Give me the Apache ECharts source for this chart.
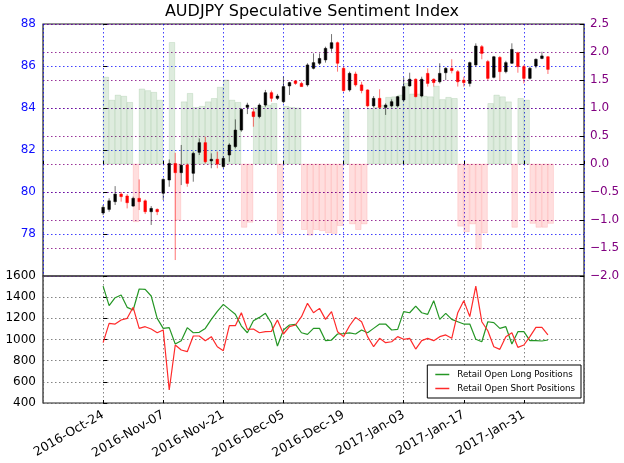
<!DOCTYPE html>
<html>
<head>
<meta charset="utf-8">
<script src="https://cdn.jsdelivr.net/npm/echarts@6/dist/echarts.min.js"></script>
<style>html,body{margin:0;padding:0;background:#fff}#c{width:624px;height:463px}</style>
</head>
<body>
<div id="c"></div>
<script>
// ---- data ----
const tickLabels = ['2016-Oct-24','2016-Nov-07','2016-Nov-21','2016-Dec-05','2016-Dec-19','2017-Jan-03','2017-Jan-17','2017-Jan-31'];
const openP = [79.00,79.17,79.54,79.90,79.81,79.33,79.70,79.58,79.06,79.17,79.94,80.57,81.36,80.92,81.29,80.89,81.89,82.35,81.48,81.56,81.21,81.76,82.16,82.95,84.03,83.82,83.59,84.14,84.73,84.46,84.30,85.05,85.29,85.17,85.10,85.89,86.13,86.29,86.84,87.11,85.89,84.86,85.62,85.10,84.86,84.10,84.46,84.03,84.10,84.10,84.38,85.05,85.37,84.57,85.65,85.37,85.25,85.68,85.89,85.73,85.33,85.17,86.05,86.92,86.21,85.46,86.41,85.73,86.13,86.63,85.97,85.41,86.00,86.36,86.44];
const closeP = [79.27,79.58,79.90,79.78,79.49,79.70,79.54,79.06,79.22,79.06,80.60,81.36,80.92,81.28,80.41,81.84,82.35,81.44,81.56,81.33,81.60,82.24,82.95,83.94,84.14,83.59,84.14,84.73,84.46,84.57,85.02,85.21,85.17,85.02,86.05,86.16,86.36,86.84,87.11,86.13,84.83,85.65,85.10,84.83,84.10,84.46,84.03,84.14,84.30,84.54,85.02,85.37,84.54,85.37,85.17,85.21,85.65,85.89,85.78,85.25,85.21,86.16,86.95,86.60,85.41,86.44,85.73,86.16,86.79,85.97,85.41,85.89,86.32,86.48,85.84];
const lowP = [78.90,79.06,79.38,79.54,79.22,79.30,79.14,78.95,78.43,78.90,79.62,80.25,76.76,80.33,80.25,80.49,81.76,81.36,81.13,81.13,81.13,81.44,82.08,82.87,83.71,83.11,83.51,84.06,84.30,84.38,84.22,84.62,85.10,85.02,85.02,85.84,86.05,86.16,86.68,85.73,84.78,84.78,85.02,84.70,84.03,84.03,83.98,83.67,84.03,84.03,84.30,85.02,84.51,84.51,85.02,85.02,85.17,85.33,85.65,85.02,85.02,85.02,85.97,86.32,85.33,85.41,85.33,85.65,86.10,85.68,85.17,85.36,85.89,86.32,85.62];
const highP = [79.38,79.70,80.28,80.00,79.90,79.78,80.60,79.65,79.33,79.22,80.65,81.55,81.87,82.24,81.36,81.92,82.55,82.63,81.84,81.92,81.71,82.32,83.46,83.98,84.25,83.98,84.22,84.86,84.83,84.67,85.49,85.25,85.33,85.25,86.13,86.60,86.60,86.92,87.52,87.16,85.97,85.73,85.73,85.25,84.89,84.57,84.89,84.22,84.41,84.57,85.46,85.68,85.41,85.49,85.89,85.41,86.13,85.94,86.32,85.81,85.49,86.21,87.08,87.00,86.29,86.48,86.48,86.25,87.08,86.68,86.05,85.97,86.36,86.68,86.48];
const sentiment = [1.55,1.14,1.23,1.21,1.10,-1.03,1.34,1.31,1.28,1.14,null,2.17,-1.00,1.11,1.26,1.01,1.03,1.11,1.17,1.37,1.50,1.14,1.10,-1.13,-1.04,1.01,1.03,1.05,1.08,-1.24,1.03,1.01,1.00,-1.17,-1.27,-1.17,-1.19,-1.23,-1.24,-1.10,0.99,-1.07,-1.17,-1.07,0.99,1.01,1.05,1.19,1.20,1.23,1.44,1.25,1.25,1.21,1.20,1.39,1.15,1.19,1.17,-1.11,-1.21,-1.07,-1.52,-1.23,1.08,1.23,1.20,1.11,-1.13,1.17,1.14,-1.06,-1.13,-1.13,-1.06];
const longPos = [1505,1320,1395,1420,1304,1279,1477,1474,1411,1200,1105,1112,957,989,1112,1064,1068,1105,1190,1266,1332,1285,1238,1127,1064,1178,1209,1247,1153,938,1090,1137,1143,1064,1049,1105,1105,989,995,1052,1055,1062,1052,1090,1064,1105,1146,1146,1090,1096,1263,1253,1316,1253,1238,1367,1190,1247,1190,1168,1146,1146,1002,979,1168,1159,1105,1121,957,1074,1074,989,989,986,995];
const shortPos = [970,1153,1146,1184,1200,1304,1105,1121,1099,1064,1090,523,948,901,885,1033,1033,989,1027,932,894,1131,1131,1253,1096,1099,1064,1074,1077,1184,1052,1121,1137,1216,1342,1253,1294,1190,1263,1074,1027,1130,1209,1168,1027,932,1011,970,979,1027,1002,1011,910,989,1011,989,1027,1043,1011,1253,1367,1216,1505,1168,1083,932,907,1027,1064,926,948,1027,1115,1115,1043];

// ---- build ----
const FONT = 'DejaVu Sans';
const candleData = openP.map((o, i) => [i, o, closeP[i], lowP[i], highP[i]]);
const barData = sentiment.map((v, i) => [i, v]).filter(d => d[1] !== null);
const longData = longPos.map((v, i) => [i, v]);
const shortData = shortPos.map((v, i) => [i, v]);

function dateLabel(v) {
  const k = Math.round(v / 10);
  if (v < 0 || k >= tickLabels.length || v % 10 !== 0) return '';
  return tickLabels[k];
}
function minus(v) { return (v < 0 ? '\u2212' : '') + Math.abs(v).toFixed(1); }
function plain(v) { return String(v); }

const dotted = (c) => ({ show: true, lineStyle: { color: c, type: [1.5, 2.5], width: 1 } });

const chart = echarts.init(document.getElementById('c'), null, { renderer: 'canvas' });
chart.setOption({
  animation: false,
  backgroundColor: '#fff',
  title: {
    text: 'AUDJPY Speculative Sentiment Index',
    left: 'center', top: 4, padding: 0,
    textStyle: { fontFamily: FONT, fontSize: 16, fontWeight: 'normal', color: '#000' }
  },
  legend: {
    orient: 'vertical', right: 43, bottom: 65,
    data: [{ name: 'Retail Open Long Positions' }, { name: 'Retail Open Short Positions' }],
    icon: 'rect', itemWidth: 14, itemHeight: 1.5, itemGap: 5,
    padding: [5, 6, 5, 8],
    borderColor: '#000', borderWidth: 1, backgroundColor: '#fff',
    textStyle: { fontFamily: FONT, fontSize: 8.7, color: '#000', padding: [0, 0, 0, 3] }
  },
  grid: [
    { left: 43, top: 24, width: 541, height: 252, show: true, borderColor: '#222', borderWidth: 1.2, containLabel: false },
    { left: 43, top: 276, width: 541, height: 127, show: true, borderColor: '#222', borderWidth: 1.2, containLabel: false }
  ],
  xAxis: [
    { type: 'value', gridIndex: 0, min: -10, max: 80, interval: 10,
      axisLine: { show: false }, axisLabel: { show: false },
      axisTick: { show: true, inside: true, length: 3, lineStyle: { color: '#000' } },
      splitLine: dotted('rgba(0,0,255,0.75)') },
    { type: 'value', gridIndex: 1, min: -10, max: 80, interval: 10,
      axisLine: { show: false },
      axisTick: { show: true, inside: true, length: 3, lineStyle: { color: '#000' } },
      axisLabel: { formatter: dateLabel, rotate: 30, margin: 11, fontFamily: FONT, fontSize: 12.5, color: '#000',
                   showMinLabel: false, showMaxLabel: false },
      splitLine: dotted('rgba(80,80,80,0.7)') }
  ],
  yAxis: [
    { type: 'value', gridIndex: 0, min: 76, max: 88, interval: 2, position: 'left',
      axisLine: { show: false },
      axisTick: { show: true, inside: true, length: 4, lineStyle: { color: '#000' } },
      axisLabel: { showMinLabel: false, formatter: plain, fontFamily: FONT, fontSize: 12, color: '#1010ff', margin: 7 },
      splitLine: dotted('rgba(0,0,255,0.75)') },
    { type: 'value', gridIndex: 0, min: -2, max: 2.5, interval: 0.5, position: 'right',
      axisLine: { show: false },
      axisTick: { show: true, inside: true, length: 4, lineStyle: { color: '#000' } },
      axisLabel: { formatter: minus, fontFamily: FONT, fontSize: 12, color: '#800080', margin: 6 },
      splitLine: dotted('rgba(128,0,128,0.8)') },
    { type: 'value', gridIndex: 1, min: 400, max: 1600, interval: 200, position: 'left',
      axisLine: { show: false },
      axisTick: { show: true, inside: true, length: 4, lineStyle: { color: '#000' } },
      axisLabel: { formatter: plain, fontFamily: FONT, fontSize: 12, color: '#000', margin: 7 },
      splitLine: dotted('rgba(80,80,80,0.7)') }
  ],
  series: [
    {
      type: 'custom', name: 'Sentiment', xAxisIndex: 0, yAxisIndex: 1, z: 1,
      data: barData, encode: { x: 0, y: 1 },
      renderItem: function (params, api) {
        const i = api.value(0), v = api.value(1);
        const p0 = api.coord([i, 0]);
        const p1 = api.coord([i + 0.92, v]);
        const pos = v >= 0;
        return {
          type: 'rect',
          shape: { x: p0[0], y: Math.min(p0[1], p1[1]), width: p1[0] - p0[0], height: Math.abs(p1[1] - p0[1]) },
          style: { fill: pos ? 'rgba(0,110,0,0.13)' : 'rgba(255,0,0,0.13)',
                   stroke: pos ? 'rgba(0,110,0,0.10)' : 'rgba(255,0,0,0.10)', lineWidth: 1 }
        };
      }
    },
    {
      type: 'custom', name: 'AUDJPY', xAxisIndex: 0, yAxisIndex: 0, z: 3,
      data: candleData, encode: { x: 0, y: [1, 2, 3, 4] },
      renderItem: function (params, api) {
        const i = api.value(0), o = api.value(1), c = api.value(2), l = api.value(3), h = api.value(4);
        const up = c >= o;
        const col = up ? '#000000' : '#ff0000';
        const pH = api.coord([i, h]), pL = api.coord([i, l]);
        const a = api.coord([i - 0.22, Math.max(o, c)]);
        const b = api.coord([i + 0.22, Math.min(o, c)]);
        return {
          type: 'group',
          children: [
            { type: 'line', shape: { x1: pH[0], y1: pH[1], x2: pL[0], y2: pL[1] },
              style: { stroke: col, lineWidth: 1, opacity: 0.55 } },
            { type: 'rect', shape: { x: a[0], y: a[1], width: b[0] - a[0], height: Math.max(1, b[1] - a[1]) },
              style: { fill: col, stroke: col, lineWidth: 0.5 } }
          ]
        };
      }
    },
    {
      type: 'line', name: 'Retail Open Long Positions', xAxisIndex: 1, yAxisIndex: 2,
      data: longData, symbol: 'none', color: '#249624',
      lineStyle: { width: 1.2, color: '#249624' }, z: 3
    },
    {
      type: 'line', name: 'Retail Open Short Positions', xAxisIndex: 1, yAxisIndex: 2,
      data: shortData, symbol: 'none', color: '#ff2a2a',
      lineStyle: { width: 1.2, color: '#ff2a2a' }, z: 3
    }
  ]
});
</script>
</body>
</html>
